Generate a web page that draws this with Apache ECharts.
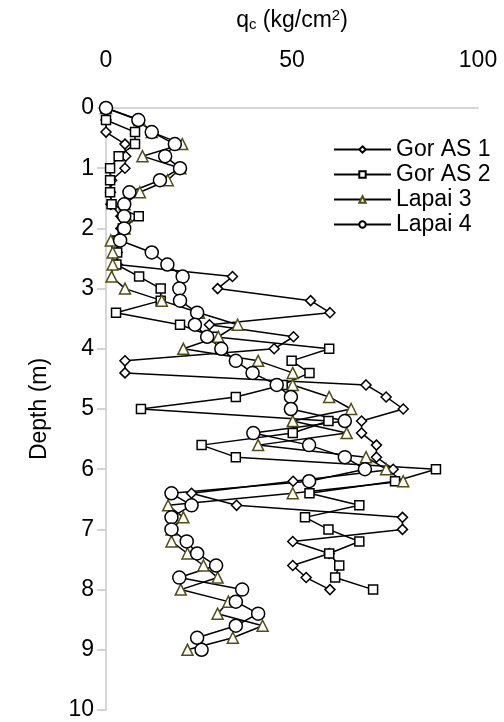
<!DOCTYPE html>
<html>
<head>
<meta charset="utf-8">
<script src="https://cdn.jsdelivr.net/npm/echarts@6/dist/echarts.min.js"></script>
<style>
html,body{margin:0;padding:0;background:#fff;}
#c{width:504px;height:722px;}
</style>
</head>
<body>
<div id="c"></div>
<script>
// Gor AS 1
var depthGor1 = [0.2,0.4,0.6,0.8,1.0,1.2,1.4,1.6,1.8,2.0,2.2,2.4,2.6,2.8,3.0,3.2,3.4,3.6,3.8,4.0,4.2,4.4,4.6,4.8,5.0,5.2,5.4,5.6,5.8,6.0,6.2,6.4,6.6,6.8,7.0,7.2,7.4,7.6,7.8,8.0];
var qcGor1    = [0,0,5.1,5.3,5.1,1.5,1.2,1.3,4,4,3,3,3,34,30,55,60.2,27.8,50.4,45.2,5.1,5.1,69.9,75.3,79.9,68.7,68.7,72.7,72.7,77.2,50.3,23,35.1,79.7,79.7,50.2,60,50.2,53.8,60.2];
// Gor AS 2
var depthGor2 = [0,0.2,0.4,0.6,0.8,1.0,1.2,1.4,1.6,1.8,2.0,2.2,2.4,2.6,2.8,3.0,3.2,3.4,3.6,3.8,4.0,4.2,4.4,4.6,4.8,5.0,5.2,5.4,5.6,5.8,6.0,6.2,6.4,6.6,6.8,7.0,7.2,7.4,7.6,7.8,8.0];
var qcGor2    = [0,0,7.8,7.8,3.4,1.1,1.1,1.1,1.5,8.8,4.5,3,3,2.8,8.9,14.7,14.7,2.7,19.9,29,60,49.9,54.7,47.5,34.9,9.4,59.8,50.2,25.7,34.9,88.7,77.7,54.7,68.1,53.5,59.8,68.1,60,62.7,61.6,71.8];
// Lapai 3
var depthLapai3 = [0,0.2,0.4,0.6,0.8,1.0,1.2,1.4,1.6,1.8,2.0,2.2,2.4,2.6,2.8,3.0,3.2,3.4,3.6,3.8,4.0,4.2,4.4,4.6,4.8,5.0,5.2,5.4,5.6,5.8,6.0,6.2,6.4,6.6,6.8,7.0,7.2,7.4,7.6,7.8,8.0,8.2,8.4,8.6,8.8,9.0];
var qcLapai3    = [0,9,12.3,20.5,9.8,20,16.6,9.1,5,5.5,5,1.3,1.8,1.8,1.5,5.1,15,25,35.4,30.2,20.8,40.9,50.2,50.2,60,65.9,50.2,64.7,40.9,69.9,75.3,79.9,50.2,16.7,20.8,17.6,17.6,21.9,26.2,30,20.1,32.9,30,42.1,34.1,21.9];
// Lapai 4
var depthLapai4 = [0,0.2,0.4,0.6,0.8,1.0,1.2,1.4,1.6,1.8,2.0,2.2,2.4,2.6,2.8,3.0,3.2,3.4,3.6,3.8,4.0,4.2,4.4,4.6,4.8,5.0,5.2,5.4,5.6,5.8,6.0,6.2,6.4,6.6,6.8,7.0,7.2,7.4,7.6,7.8,8.0,8.2,8.4,8.6,8.8,9.0];
var qcLapai4    = [0,8.7,12.3,18.5,15.9,19.9,14.5,6.3,4.9,4.9,4.9,3.8,12.3,16.5,20.6,19.7,19.9,24.5,23.9,27.2,31,34.9,39.4,45.9,49.7,49.7,64.2,39.6,54.6,64.2,69.6,54.6,17.6,23,17.6,17.6,21.7,24.5,29.6,19.7,36.6,34.9,40.9,34.9,24.5,25.7];

var xTicks = [0, 50, 100];
var yTicks = [0,1,2,3,4,5,6,7,8,9,10];

function pairs(q, d){ return q.map(function(v,i){ return [v, d[i]]; }); }

var FONT = 'Liberation Sans, Arial, sans-serif';
var FS = 23;
var chart = echarts.init(document.getElementById('c'));
var lineStyle = {color:'#000', width:1.5};
function mk(name, q, d, symbol, size, border){
  return {
    name: name, type:'line', data: pairs(q,d),
    symbol: symbol, symbolSize: size, showAllSymbol: true,
    lineStyle: lineStyle,
    itemStyle: {color:'#fff', borderColor: border, borderWidth:1.5},
    emphasis:{disabled:true}, animation:false
  };
}
chart.setOption({
  animation:false,
  textStyle:{fontFamily:FONT},
  grid:{left:106, right:26, top:108, bottom:12, containLabel:false},
  legend:{
    orient:'vertical', left:328, top:133, itemWidth:57, itemHeight:8, itemGap:2,
    textStyle:{fontSize:FS, color:'#000', fontFamily:FONT, lineHeight:23},
    data:['Gor AS 1','Gor AS 2','Lapai 3','Lapai 4']
  },
  xAxis:{
    type:'value', position:'top', min:xTicks[0], max:xTicks[xTicks.length-1], interval:50,
    name:'{n|q}{s|c}{n| (kg/cm}{p|2}{n|)}', nameLocation:'middle', nameGap:75,
    nameTextStyle:{fontSize:FS, rich:{
      n:{fontSize:FS, color:'#000', fontFamily:FONT},
      s:{fontSize:15, color:'#000', fontFamily:FONT, padding:[9,0,0,0]},
      p:{fontSize:15, color:'#000', fontFamily:FONT, padding:[0,0,10,0]}
    }},
    axisLine:{lineStyle:{color:'#c8c8c8', width:1.5}},
    axisTick:{show:false},
    axisLabel:{fontSize:FS, color:'#000', margin:36, fontFamily:FONT},
    splitLine:{show:false}
  },
  yAxis:{
    type:'value', inverse:true, min:yTicks[0], max:yTicks[yTicks.length-1], interval:1,
    name:'Depth (m)', nameLocation:'middle', nameGap:55, nameRotate:90,
    nameTextStyle:{fontSize:FS, color:'#000', fontFamily:FONT},
    axisLine:{lineStyle:{color:'#c8c8c8', width:1.5}},
    axisTick:{show:true, length:9, lineStyle:{color:'#c8c8c8', width:1.5}},
    axisLabel:{fontSize:FS, color:'#000', margin:12, fontFamily:FONT},
    splitLine:{show:false}
  },
  series:[
    mk('Gor AS 1', qcGor1, depthGor1, 'diamond', 10, '#000'),
    mk('Gor AS 2', qcGor2, depthGor2, 'rect', 9, '#000'),
    mk('Lapai 3', qcLapai3, depthLapai3, 'triangle', 11, '#4f4f14'),
    mk('Lapai 4', qcLapai4, depthLapai4, 'circle', 13, '#000')
  ]
});
</script>
</body>
</html>
